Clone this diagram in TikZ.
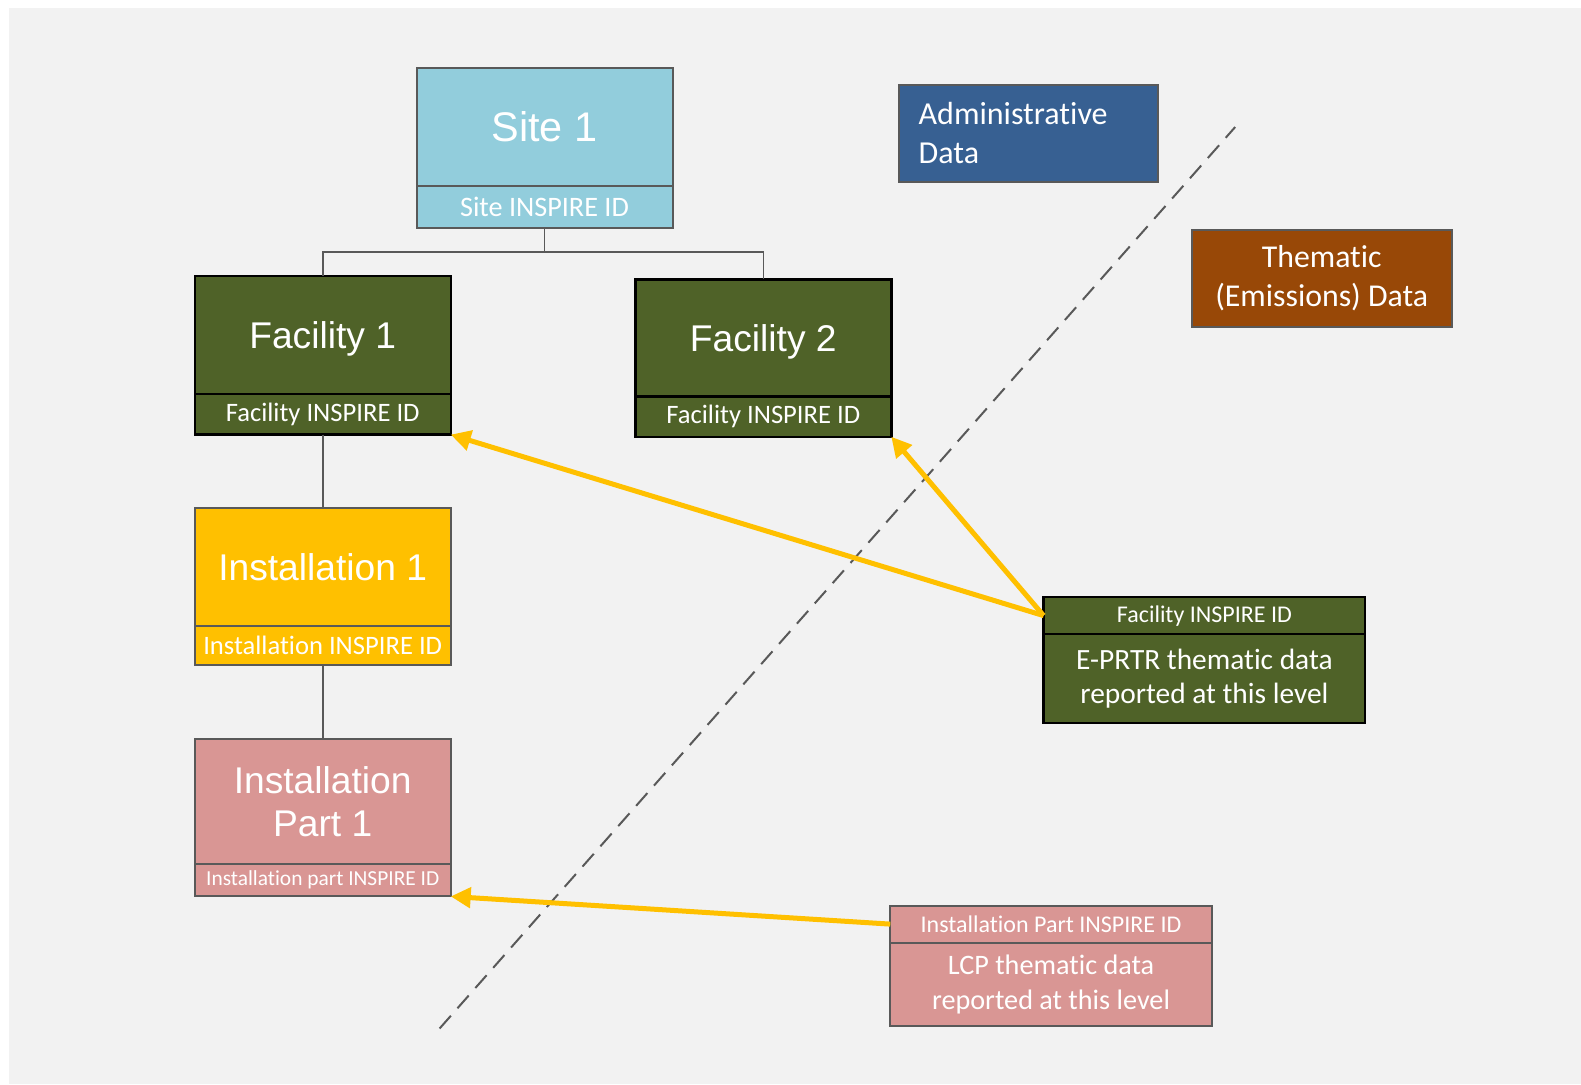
\documentclass[tikz,border=0pt]{standalone}
\usepackage{fontspec}
\setmainfont{Carlito}[Ligatures=NoCommon]
\newfontfamily\arialfont{Liberation Sans}
\usetikzlibrary{arrows.meta,calc}
\definecolor{bggray}{HTML}{F2F2F2}
\definecolor{edgegray}{HTML}{595959}
\definecolor{siteblue}{HTML}{92CDDC}
\definecolor{facgreen}{HTML}{4F6228}
\definecolor{instgold}{HTML}{FFC000}
\definecolor{partpink}{HTML}{D99694}
\definecolor{admblue}{HTML}{376092}
\definecolor{thembrown}{HTML}{984807}
\tikzset{
	box/.style={draw=edgegray, line width=1pt, inner sep=0pt, outer sep=0pt, text=white, align=center, minimum width=128pt},
	greenbox/.style={box, draw=black, line width=1.2pt, fill=facgreen},
	title/.style={font=\arialfont\fontsize{18.6}{21.7}\selectfont, text depth=0pt},
	conn/.style={draw=edgegray, line width=0.8pt},
	pointer/.style={draw=instgold, line width=2.5pt, -{Triangle[length=10pt,width=10pt]}},
}
\begin{document}
\begin{tikzpicture}[x=0.5pt,y=-0.5pt]
	\useasboundingbox (0,0) rectangle (1581,1084);
	\fill[bggray] (9,8) rectangle (1581,1084);
	\node[box, fill=siteblue, minimum height=59pt, font=\arialfont\fontsize{20.7}{24}\selectfont] (site) at (544.5,126.5) {Site 1};
	\node[box, fill=siteblue, minimum height=21.2pt, font=\fontsize{14.1}{16}\selectfont] (siteid) at (544.5,206.7) {Site INSPIRE ID};
	\node[greenbox, minimum height=59pt, title] (fac1) at (322.7,335.2) {Facility 1};
	\node[greenbox, minimum height=20.2pt, font=\fontsize{13.3}{15}\selectfont] (fac1id) at (322.7,414.4) {Facility INSPIRE ID};
	\node[greenbox, minimum height=58.5pt, title] (fac2) at (763.3,337.8) {Facility 2};
	\node[greenbox, minimum height=20.2pt, font=\fontsize{13.3}{15}\selectfont] (fac2id) at (763.3,416.5) {Facility INSPIRE ID};
	\node[box, fill=instgold, minimum height=59pt, title] (inst1) at (322.7,567.2) {Installation 1};
	\node[box, fill=instgold, minimum height=19.6pt, font=\fontsize{13.3}{15}\selectfont] (inst1id) at (322.7,645.8) {Installation INSPIRE ID};
	\node[box, fill=partpink, minimum height=62.5pt, title] (part1) at (322.7,801.6) {Installation\\Part 1};
	\node[box, fill=partpink, minimum height=16.2pt, font=\fontsize{10.7}{12}\selectfont] (part1id) at (322.7,880.2) {Installation part INSPIRE ID};
	\node[box, fill=admblue, minimum width=129.5pt, minimum height=48.4pt, text width=109.3pt, align=left, font=\fontsize{16}{19.2}\selectfont] (admin) at (1028,133.1) {Administrative\\Data};
	\node[box, fill=thembrown, minimum width=130pt, minimum height=48.4pt, font=\fontsize{15.9}{19.2}\selectfont] (thematic) at (1321.7,278.3) {Thematic\\(Emissions) Data};
	\node[greenbox, minimum width=160.8pt, minimum height=18.6pt, font=\fontsize{12}{14}\selectfont] (eprtrid) at (1204.4,615.6) {Facility INSPIRE ID};
	\node[greenbox, minimum width=160.8pt, minimum height=44.4pt, font=\fontsize{14.7}{17.1}\selectfont] (eprtr) at (1204.4,678.6) {E-PRTR thematic data\\reported at this level};
	\node[box, fill=partpink, minimum width=160.7pt, minimum height=18.6pt, font=\fontsize{12}{14}\selectfont] (lcpid) at (1051,924.1) {Installation Part INSPIRE ID};
	\node[box, fill=partpink, minimum width=160.7pt, minimum height=41.6pt, font=\fontsize{14.1}{17.1}\selectfont] (lcp) at (1051,984.4) {LCP thematic data\\reported at this level};
	\coordinate (split) at (544.5,252);
	\draw[conn] (siteid.south) -- (split) -| (fac1.north);
	\draw[conn] (split) -| (fac2.north);
	\draw[conn] (fac1id.south) -- (inst1.north);
	\draw[conn] (inst1id.south) -- (part1.north);
	\coordinate (cutlow) at (439.6,1028.5);
	\coordinate (cuthigh) at (1235.2,127);
	\draw[edgegray, line width=1pt, dash pattern=on 8.5pt off 5pt] (cutlow) -- (cuthigh);
	\draw[pointer] (eprtrid.west) -- (fac1id.south east);
	\draw[pointer] (eprtrid.west) -- (fac2id.south east);
	\draw[pointer] (lcpid.west) -- (part1id.south east);
\end{tikzpicture}
\end{document}
